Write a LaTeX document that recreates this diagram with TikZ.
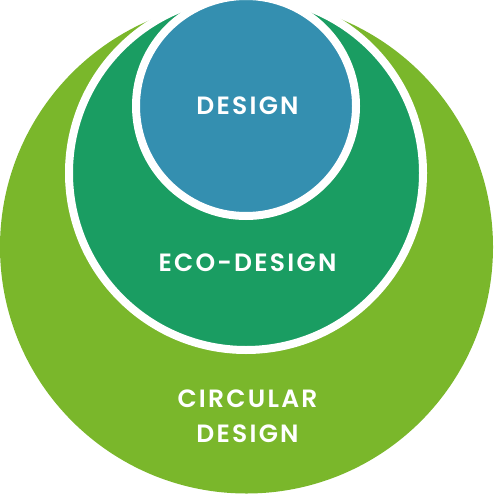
\documentclass[tikz,border=0pt]{standalone}
\usepackage{fontspec}
\setmainfont{Poppins}
\newfontfamily\lblfont{Poppins}[UprightFont=* SemiBold, LetterSpace=9]
\definecolor{circgreen}{HTML}{7AB72B}
\definecolor{ecogreen}{HTML}{1A9D62}
\definecolor{designblue}{HTML}{348FB0}
\tikzset{ring/.style={draw=white, line width=8pt}, lbl/.style={text=white, font=\fontsize{25}{34.5}\selectfont\lblfont, align=center}}

\begin{document}
\begin{tikzpicture}[x=1pt, y=-1pt]
	%%%%% START %%%%%
	\useasboundingbox (0, 0) rectangle (493, 494);
	\clip (0, 0) rectangle (493, 494);
	
	\fill[circgreen] (246.5, 247) circle (246.5);
	\draw[ring, fill=ecogreen] (246, 173) circle (177);
	\draw[ring, fill=designblue] (246, 106) circle (110);
	
	\node[lbl] (design) at (247.5, 106) {DESIGN};
	\node[lbl] (eco) at (247.5, 262.5) {ECO-DESIGN};
	\node[lbl] (circular) at (247.5, 416) {CIRCULAR\\DESIGN};
	%%%%% END %%%%%
\end{tikzpicture}
\end{document}
